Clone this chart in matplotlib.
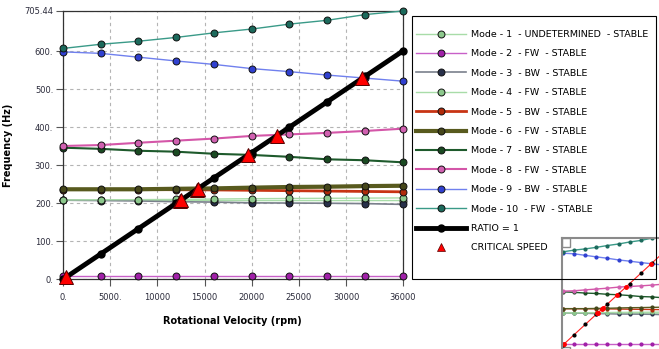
import matplotlib
matplotlib.use('Agg')
import matplotlib.pyplot as plt
from matplotlib.lines import Line2D
from matplotlib.patches import Rectangle

plt.rcParams['font.family'] = ['DejaVu Sans']

# Campbell diagram data
rpm = [0, 4000, 8000, 12000, 16000, 20000, 24000, 28000, 32000, 36000]
mode1 = [208.5, 208, 207.5, 207.5, 207, 207, 207, 207, 207, 207]
mode2 = [8, 8, 8, 8, 8, 8, 8, 8, 8, 8]
mode3 = [208, 207, 206, 204, 203, 201, 200.5, 200, 199, 197]
mode4 = [208.5, 209, 209.5, 210, 211, 212, 212.5, 213, 213.5, 214]
mode5 = [236, 236, 236, 235.5, 235, 234, 233, 232, 231, 230]
mode6 = [236.7, 236.7, 236.7, 238, 239, 241, 242.7, 243.5, 245, 246]
mode7 = [346, 343, 338, 335.5, 330, 327, 322, 315.5, 313, 307.6]
mode8 = [350.5, 353, 359, 364.5, 370, 377, 381, 385, 390, 396]
mode9 = [598, 594, 584, 574, 565, 554, 546, 537, 529, 521]
mode10 = [607, 618, 626, 636, 648, 658, 671, 681, 696, 705.44]
ratio = [0, 66.67, 133.33, 200, 266.67, 333.33, 400, 466.67, 533.33, 600]
crit_rpm = [300, 12400, 12550, 14150, 14280, 19570, 22650, 31700]
crit_hz = [5, 207, 209, 236, 238, 326, 377.5, 528]

labels = ['Mode - 1  - UNDETERMINED  - STABLE', 'Mode - 2  - FW  - STABLE',
          'Mode - 3  - BW  - STABLE', 'Mode - 4  - FW  - STABLE',
          'Mode - 5  - BW  - STABLE', 'Mode - 6  - FW  - STABLE',
          'Mode - 7  - BW  - STABLE', 'Mode - 8  - FW  - STABLE',
          'Mode - 9  - BW  - STABLE', 'Mode - 10  - FW  - STABLE']
modes = [mode1, mode2, mode3, mode4, mode5, mode6, mode7, mode8, mode9, mode10]
line_colors = ['#a8dca8', '#c860c8', '#7a808c', '#a8dca8', '#c83414',
               '#585a1e', '#1e5a2c', '#d456a8', '#7080ee', '#3a9a88']
face_colors = ['#8cc88c', '#a020a8', '#28304a', '#8cc88c', '#b02a0a',
               '#45461a', '#1a4a22', '#d060b0', '#3040d0', '#1c6a5c']
widths = [1.0, 1.0, 1.2, 1.0, 2.0, 3.0, 1.5, 1.5, 1.0, 1.0]
xticks = [0, 5000, 10000, 15000, 20000, 25000, 30000, 36000]
xticklabels = ['0.', '5000.', '10000', '15000', '20000', '25000', '30000', '36000']
yticks = [0, 100, 200, 300, 400, 500, 600, 705.44]
yticklabels = ['0.', '100.', '200.', '300.', '400.', '500.', '600.', '705.44']

W, H = 659, 349
fig = plt.figure(figsize=(W / 100, H / 100), dpi=100)
ax = fig.add_axes([63 / W, 1 - 279.3 / H, 339.7 / W, 268.3 / H])

for vals, c, fc, lw in zip(modes, line_colors, face_colors, widths):
    ax.plot(rpm, vals, color=c, lw=lw, marker='o', ms=5, mfc=fc, mec='#111111',
            mew=0.7, clip_on=False, zorder=3)
ax.plot(rpm, ratio, color='black', lw=3.5, marker='o', ms=5, mfc='black',
        mec='black', clip_on=False, zorder=4)
ax.plot(crit_rpm, crit_hz, ls='none', marker='^', ms=10.5, mfc='#ff0000',
        mec='#550000', mew=0.7, clip_on=False, zorder=5)

ax.set_xlim(0, 36000)
ax.set_ylim(0, 705.44)
ax.set_xticks(xticks)
ax.set_xticklabels(xticklabels)
ax.set_yticks(yticks)
ax.set_yticklabels(yticklabels)
ax.tick_params(length=5, width=0.8, color='#555555', labelsize=6,
               labelcolor='#2b2b3b', pad=2)
ax.tick_params(axis='x', pad=5)
ax.grid(True, color='#b4b4b4', ls=(0, (3, 3)), lw=0.8)
for s in ax.spines.values():
    s.set_color('#333333')
    s.set_linewidth(0.9)
ax.set_xlabel('Rotational Velocity (rpm)', fontsize=7, fontweight='bold', labelpad=10)
ax.set_ylabel('Frequency (Hz)', fontsize=7, fontweight='bold', labelpad=8)

# legend
handles = [Line2D([], [], color=c, lw=lw, marker='o', ms=5, mfc=fc, mec='#111111', mew=0.7)
           for c, fc, lw in zip(line_colors, face_colors, widths)]
handles.append(Line2D([], [], color='black', lw=3.5, marker='o', ms=5, mfc='black'))
handles.append(Line2D([], [], ls='none', marker='^', ms=6, mfc='#ff0000', mec='#550000', mew=0.5))
fig.add_artist(Rectangle((412 / W, 1 - 279 / H), 244 / W, 263 / H, transform=fig.transFigure,
                         fill=False, ec='black', lw=0.8))
fig.legend(handles, labels + ['RATIO = 1', 'CRITICAL SPEED'], loc='upper left',
           bbox_to_anchor=(416 / W, 1 - 30 / H), frameon=False, fontsize=6.8,
           handlelength=5.3, handletextpad=0.55, labelspacing=1.1,
           borderpad=0, borderaxespad=0)

# overview thumbnail in the lower right corner
ins = fig.add_axes([562 / W, 1 - 356 / H, 106 / W, 118 / H])
for vals, c, fc in zip(modes, line_colors, face_colors):
    ins.plot(rpm, vals, color=c, lw=1.0, marker='o', ms=2.0, mfc=fc, mec=fc)
ins.plot(rpm, ratio, color='#ff2020', lw=0.8, marker='o', ms=2.0, mfc='black', mec='black')
ins.plot(crit_rpm, crit_hz, ls='none', marker='o', ms=2.5, color='#ff0000')
ins.set_xlim(-360, 37800)
ins.set_ylim(-72, 697)
ins.set_xticks([])
ins.set_yticks([])
for s in ins.spines.values():
    s.set_color('#8a8a8a')
    s.set_linewidth(1.5)
for yy in (0.92, 0.0):
    ins.add_patch(Rectangle((0.0, yy), 0.08, 0.08, transform=ins.transAxes,
                            fill=False, ec='#8a8a8a', lw=1.0))

fig.savefig('out.png', dpi=100)
